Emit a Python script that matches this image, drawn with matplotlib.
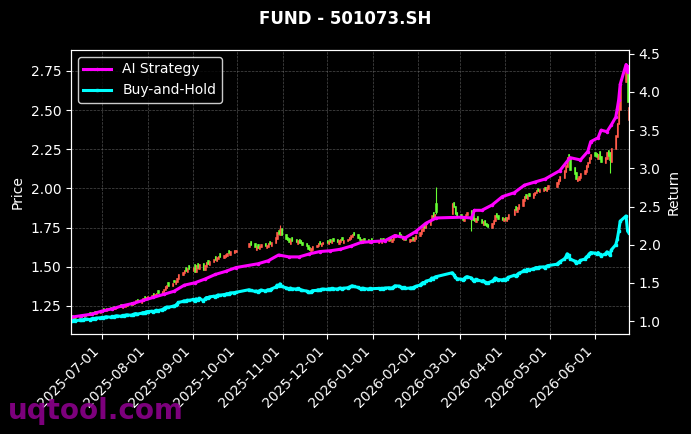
import numpy as np
import pandas as pd
import matplotlib
matplotlib.use("Agg")
import matplotlib.pyplot as plt
import matplotlib.dates as mdates

# trading calendar (Shanghai), June 2025 - June 2026
start, end = "2025-06-10", "2026-06-24"
holidays = ["2025-10-01", "2025-10-02", "2025-10-03", "2025-10-06", "2025-10-07",
            "2025-10-08", "2026-01-01", "2026-01-02", "2026-02-16", "2026-02-17",
            "2026-02-18", "2026-02-19", "2026-02-20", "2026-02-23", "2026-04-06",
            "2026-05-01", "2026-05-04", "2026-05-05", "2026-06-19"]

# daily close / open, month by month
close_px = [
    # 2025-06
    1.170, 1.175, 1.180, 1.172, 1.185, 1.190, 1.183, 1.195, 1.200, 1.192, 1.205, 1.210, 1.200, 1.215, 1.220,
    # 2025-07
    1.225, 1.218, 1.230, 1.235, 1.228, 1.240, 1.232, 1.245, 1.250, 1.242, 1.255, 1.248, 1.260, 1.265, 1.258,
    1.270, 1.278, 1.285, 1.275, 1.290, 1.300, 1.295, 1.310,
    # 2025-08
    1.315, 1.320, 1.310, 1.325, 1.335, 1.330, 1.345, 1.360, 1.375, 1.385, 1.380, 1.395, 1.400, 1.410, 1.430,
    1.455, 1.470, 1.480, 1.475, 1.490, 1.485,
    # 2025-09
    1.500, 1.470, 1.510, 1.490, 1.520, 1.480, 1.510, 1.530, 1.520, 1.540, 1.550, 1.545, 1.560, 1.570, 1.565,
    1.575, 1.580, 1.590, 1.585, 1.600, 1.605, 1.610,
    # 2025-10
    1.650, 1.640, 1.625, 1.630, 1.620, 1.635, 1.645, 1.630, 1.640, 1.650, 1.645, 1.660, 1.690, 1.720, 1.710,
    1.740, 1.700,
    # 2025-11
    1.680, 1.670, 1.660, 1.675, 1.665, 1.660, 1.670, 1.655, 1.650, 1.640, 1.630, 1.615, 1.610, 1.620, 1.635,
    1.640, 1.650, 1.645, 1.655, 1.660,
    # 2025-12
    1.655, 1.665, 1.660, 1.670, 1.665, 1.660, 1.670, 1.675, 1.668, 1.672, 1.680, 1.690, 1.700, 1.710, 1.700,
    1.685, 1.670, 1.665, 1.675, 1.668, 1.660, 1.670, 1.665,
    # 2026-01
    1.670, 1.665, 1.672, 1.668, 1.675, 1.680, 1.670, 1.678, 1.690, 1.710, 1.705, 1.690, 1.680, 1.685, 1.670,
    1.675, 1.680, 1.670, 1.690, 1.700,
    # 2026-02
    1.720, 1.740, 1.760, 1.750, 1.780, 1.800, 1.830, 1.820, 1.840, 1.850, 1.910, 1.880, 1.840, 1.820,
    # 2026-03
    1.810, 1.800, 1.820, 1.840, 1.850, 1.830, 1.800, 1.790, 1.810, 1.800, 1.780, 1.790, 1.770, 1.760, 1.755,
    1.780, 1.800, 1.830, 1.820, 1.805, 1.800, 1.810,
    # 2026-04
    1.800, 1.820, 1.840, 1.870, 1.860, 1.880, 1.900, 1.930, 1.950, 1.940, 1.960, 1.950, 1.970, 1.980, 1.990,
    1.985, 1.995, 2.000, 1.990, 2.010, 2.020,
    # 2026-05
    2.040, 2.060, 2.080, 2.120, 2.150, 2.200, 2.180, 2.120, 2.090, 2.060, 2.070, 2.080, 2.100, 2.120, 2.150,
    2.170, 2.200, 2.220,
    # 2026-06
    2.210, 2.200, 2.220, 2.190, 2.170, 2.200, 2.230, 2.210, 2.180, 2.260, 2.340, 2.420, 2.550, 2.700, 2.780,
    2.550, 2.520,
]

open_px = [
    # 2025-06
    1.155, 1.190, 1.165, 1.190, 1.170, 1.178, 1.200, 1.180, 1.188, 1.210, 1.190, 1.198, 1.218, 1.200, 1.205,
    # 2025-07
    1.210, 1.235, 1.215, 1.220, 1.245, 1.225, 1.250, 1.230, 1.235, 1.260, 1.240, 1.265, 1.245, 1.250, 1.275,
    1.255, 1.262, 1.270, 1.295, 1.272, 1.282, 1.312, 1.290,
    # 2025-08
    1.295, 1.302, 1.330, 1.305, 1.315, 1.350, 1.325, 1.338, 1.352, 1.365, 1.400, 1.375, 1.418, 1.392, 1.405,
    1.425, 1.448, 1.460, 1.500, 1.468, 1.510,
    # 2025-09
    1.472, 1.515, 1.468, 1.525, 1.488, 1.525, 1.478, 1.500, 1.545, 1.512, 1.530, 1.570, 1.538, 1.548, 1.590,
    1.555, 1.562, 1.572, 1.605, 1.578, 1.590, 1.592,
    # 2025-10
    1.625, 1.665, 1.650, 1.605, 1.645, 1.612, 1.625, 1.655, 1.618, 1.628, 1.665, 1.635, 1.655, 1.680, 1.735,
    1.705, 1.745,
    # 2025-11
    1.712, 1.692, 1.682, 1.648, 1.688, 1.675, 1.648, 1.680, 1.668, 1.660, 1.650, 1.640, 1.628, 1.600, 1.610,
    1.625, 1.632, 1.662, 1.635, 1.645,
    # 2025-12
    1.672, 1.645, 1.678, 1.650, 1.682, 1.675, 1.648, 1.660, 1.688, 1.655, 1.662, 1.670, 1.680, 1.690, 1.722,
    1.708, 1.692, 1.680, 1.655, 1.685, 1.678, 1.650, 1.682,
    # 2026-01
    1.652, 1.682, 1.655, 1.685, 1.660, 1.665, 1.690, 1.660, 1.670, 1.688, 1.722, 1.712, 1.698, 1.668, 1.692,
    1.658, 1.665, 1.690, 1.665, 1.680,
    # 2026-02
    1.695, 1.712, 1.730, 1.775, 1.745, 1.770, 1.798, 1.848, 1.815, 1.905, 1.840, 1.912, 1.885, 1.850,
    # 2026-03
    1.835, 1.825, 1.790, 1.812, 1.830, 1.862, 1.842, 1.812, 1.785, 1.825, 1.808, 1.770, 1.800, 1.782, 1.772,
    1.750, 1.775, 1.795, 1.842, 1.830, 1.815, 1.790,
    # 2026-04
    1.820, 1.790, 1.808, 1.830, 1.885, 1.848, 1.870, 1.888, 1.918, 1.962, 1.930, 1.972, 1.942, 1.958, 1.970,
    2.002, 1.975, 1.985, 2.010, 1.982, 1.998,
    # 2026-05
    2.010, 2.030, 2.050, 2.070, 2.108, 2.140, 2.220, 2.195, 2.135, 2.105, 2.045, 2.055, 2.070, 2.090, 2.108,
    2.140, 2.160, 2.190,
    # 2026-06
    2.235, 2.225, 2.185, 2.240, 2.205, 2.160, 2.185, 2.245, 2.230, 2.170, 2.250, 2.330, 2.410, 2.500, 2.680,
    2.760, 2.440,
]

# long wicks that stand out
wick_dates = ["2025-10-30", "2026-02-13", "2026-03-09", "2026-06-11", "2026-06-22"]
wick_high = [1.770, 2.010, 1.830, 2.230, 2.800]
wick_low = [1.700, 1.840, 1.730, 2.100, 2.680]

# AI strategy cumulative return, at trading-day positions
ai_idx = [0, 5, 10, 15, 20, 25, 30, 35, 40, 45, 50, 55, 60, 65, 70, 75, 80, 85, 90, 95,
          100, 105, 110, 115, 120, 125, 130, 135, 140, 145, 150, 155, 160, 165, 170, 175,
          180, 182, 185, 190, 195, 200, 205, 210, 215, 220, 225, 230, 233, 235, 238, 240,
          242, 245, 246, 247, 248, 249, 250, 251, 252]
ai_ret = [1.05, 1.07, 1.09, 1.13, 1.16, 1.20, 1.23, 1.27, 1.31, 1.35, 1.39, 1.47, 1.50, 1.55,
          1.61, 1.65, 1.70, 1.75, 1.79, 1.865, 1.84, 1.84, 1.88, 1.91, 1.92, 1.94, 1.98, 2.03,
          2.04, 2.05, 2.12, 2.09, 2.17, 2.28, 2.35, 2.36, 2.35, 2.45, 2.45, 2.52, 2.63, 2.68,
          2.78, 2.82, 2.86, 2.97, 3.14, 3.11, 3.22, 3.35, 3.40, 3.50, 3.48, 3.57, 3.67, 3.78,
          3.90, 4.10, 4.36, 4.26, 4.33]

dates = pd.bdate_range(start, end)
dates = dates[~dates.isin(pd.to_datetime(holidays))]
n = min(len(dates), len(close_px), len(open_px))
dates = dates[:n]
c = np.array(close_px[:n])
o = np.array(open_px[:n])
hi = np.maximum(o, c)
lo = np.minimum(o, c)
for d, h, l in zip(wick_dates, wick_high, wick_low):
    k = dates.get_indexer([pd.Timestamp(d)])[0]
    if k >= 0:
        hi[k] = max(hi[k], h)
        lo[k] = min(lo[k], l)

bh = c / c[0]
ai_idx = [i for i in ai_idx if i < n]
ai_dates = dates[ai_idx]
ai_vals = ai_ret[:len(ai_idx)]

fig = plt.figure(figsize=(6.91, 4.34), dpi=100, facecolor="black")
ax = fig.add_axes([0.1027, 0.2304, 0.8076, 0.6544])
ax.set_facecolor("black")

# candles: red = up, green = down
red, green = "#ff5a4a", "#66ff33"
cols = np.where(c >= o, red, green)
ax.vlines(dates, lo, hi, colors=cols, linewidth=0.8)
ax.bar(dates, np.abs(c - o), bottom=np.minimum(o, c),
       width=0.9, color=cols, edgecolor=cols, linewidth=0.4)

ax.set_ylim(1.071, 2.884)
ax.set_xlim(dates[0], dates[-1])
ax.set_ylabel("Price", color="white")
ax.grid(True, color="gray", linestyle="--", linewidth=0.5, alpha=0.6)
ax.xaxis.set_major_locator(mdates.MonthLocator())
ax.xaxis.set_major_formatter(mdates.DateFormatter("%Y-%m-%d"))
plt.setp(ax.get_xticklabels(), rotation=45, ha="right")

ax2 = ax.twinx()
ax2.plot(ai_dates, ai_vals, color="#ff00ff", linewidth=2.2, marker="o", markersize=1.5,
         label="AI Strategy")
ax2.plot(dates, bh, color="#00ffff", linewidth=2.2, marker="s", markersize=1.5,
         label="Buy-and-Hold")
ax2.set_ylim(0.83, 4.55)
ax2.set_ylabel("Return", color="white")
ax2.legend(loc="upper left", facecolor="black", edgecolor="white", labelcolor="white")

for a in (ax, ax2):
    a.tick_params(colors="white")
    for s in a.spines.values():
        s.set_color("white")

fig.suptitle("FUND - 501073.SH", color="white", fontweight="bold", fontsize=12, y=0.977)
fig.text(0.012, 0.035, "uqtool.com", color="#8b008b", fontsize=20, fontweight="bold", alpha=0.9)

fig.savefig("out.png", dpi=100, facecolor="black")
